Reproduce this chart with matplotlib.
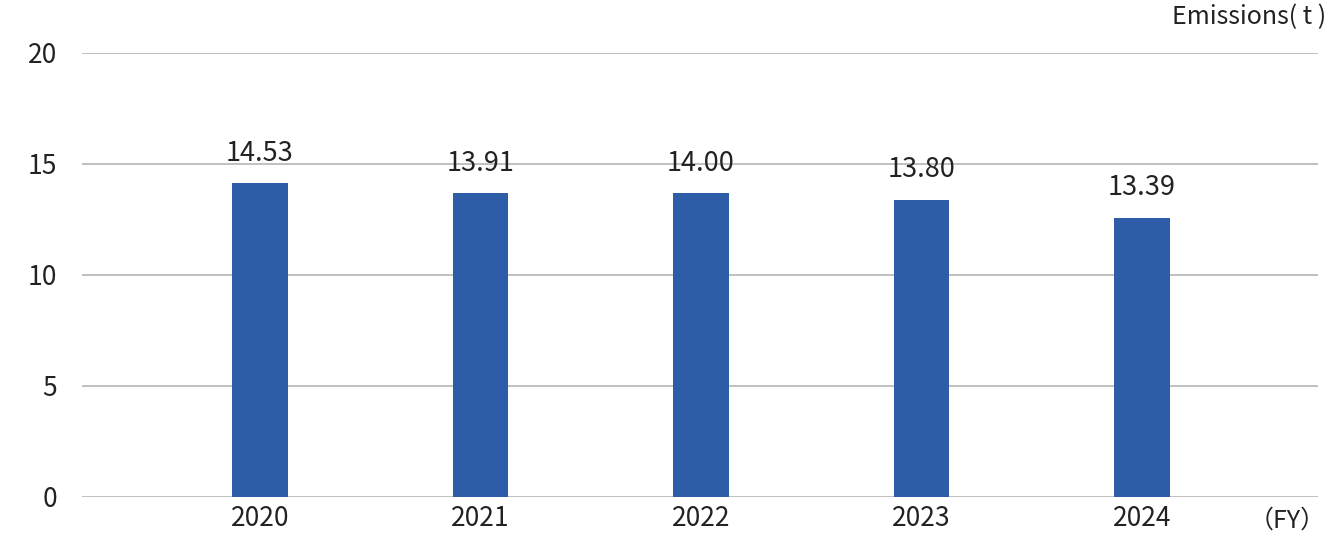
import matplotlib.pyplot as plt
import numpy as np

plt.rcParams['font.family'] = ['Noto Sans CJK JP', 'DejaVu Sans']

years = ['2020', '2021', '2022', '2023', '2024']
# bar heights as drawn in the chart, labels as printed above bars
heights = [14.12, 13.67, 13.67, 13.36, 12.55]
labels = ['14.53', '13.91', '14.00', '13.80', '13.39']
yticks = [0, 5, 10, 15, 20]

bar_color = '#2D5DA7'
text_color = '#222222'

fig = plt.figure(figsize=(13.38, 5.38), dpi=100)
ax = fig.add_axes([82/1338, 1 - 496.7/538, (1318 - 82)/1338, (496.7 - 52.7)/538])

x = np.arange(len(years))
bars = ax.bar(x, heights, width=0.25, color=bar_color, zorder=3)

for b, lab in zip(bars, labels):
    ax.annotate(lab, (b.get_x() + b.get_width()/2, b.get_height()),
                xytext=(0, 12), textcoords='offset points',
                ha='center', va='bottom', fontsize=19.5, color=text_color)

ax.set_xlim(-0.807, 4.798)
ax.set_ylim(0, 20)
ax.set_yticks(yticks)
ax.set_xticks(x)
ax.set_xticklabels(years)
ax.grid(axis='y', color='#C0C0C0', linewidth=1.4, zorder=0)
for s in ax.spines.values():
    s.set_visible(False)
ax.tick_params(axis='both', length=0, labelsize=19, colors=text_color)
ax.tick_params(axis='y', pad=18)
ax.tick_params(axis='x', pad=6)

fig.text(1326/1338, 1 - 17/538, 'Emissions( t )', ha='right', va='center',
         fontsize=18, color=text_color)
fig.text(1326/1338, 1 - 521/538, '（FY）', ha='right', va='center',
         fontsize=18, color=text_color)

fig.savefig('out.png', dpi=100, facecolor='white')
